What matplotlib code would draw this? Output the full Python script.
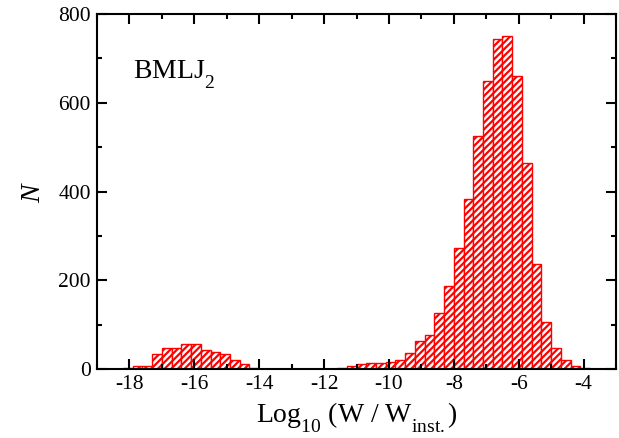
import numpy as np
from matplotlib import pyplot as plt
from matplotlib.ticker import MultipleLocator
import matplotlib._mathtext as mathtext_internal

# histogram: bins of width 0.3 starting at -18.5
bin_start = -18.5
bin_width = 0.3
counts = [1, 2, 7, 8, 34, 47, 49, 58, 56, 43, 39, 34, 20, 13, 2,
          0, 0, 0, 0, 0, 0, 0,
          1, 4, 7, 11, 15, 14, 16, 22, 37, 63, 77, 127, 187, 272, 384,
          525, 649, 744, 751, 661, 464, 238, 107, 49, 22, 7, 4]
xticks = [-18, -16, -14, -12, -10, -8, -6, -4]
yticks = [0, 200, 400, 600, 800]
label_text = r"BMLJ$_2$"

plt.rcParams["font.family"] = "Liberation Serif"
plt.rcParams["mathtext.fontset"] = "custom"
plt.rcParams["mathtext.rm"] = "Liberation Serif"
plt.rcParams["mathtext.it"] = "Liberation Serif:italic"
plt.rcParams["hatch.linewidth"] = 1.6
plt.rcParams["hatch.color"] = "red"
# subscripts sit lower in the original
mathtext_internal.FontConstantsBase.sub1 = 0.8

fig = plt.figure(figsize=(6.19, 4.38), dpi=100)
ax = fig.add_axes([97/619, 1 - 369.3/438, (616-97)/619, (369.3-14)/438])

lefts = bin_start + bin_width * np.arange(len(counts))
ax.bar(lefts, counts, width=bin_width, align="edge",
       facecolor="white", edgecolor="red", linewidth=1.0, hatch="/////")

ax.set_xlim(-19, -3)
ax.set_ylim(0, 800)
ax.set_xticks(xticks)
ax.set_xticklabels([str(t) for t in xticks])
ax.set_yticks(yticks)
ax.xaxis.set_minor_locator(MultipleLocator(1))
ax.yaxis.set_minor_locator(MultipleLocator(100))
ax.tick_params(which="both", direction="in", top=True, right=True,
               width=1.5, labelsize=15.5)
ax.tick_params(which="major", length=7)
ax.tick_params(which="minor", length=3.5)
ax.tick_params(axis="x", pad=4)
ax.tick_params(axis="y", pad=4.5)
for s in ax.spines.values():
    s.set_linewidth(1.5)

ax.text(-17.9, 655, label_text, fontsize=20, va="baseline")
ax.set_xlabel(r"Log$_{10}$ (W / W$_{\mathrm{inst.}}$)", fontsize=20, labelpad=5)
ax.set_ylabel(r"$N$", fontsize=20, labelpad=9)

fig.savefig("out.png", dpi=100)
